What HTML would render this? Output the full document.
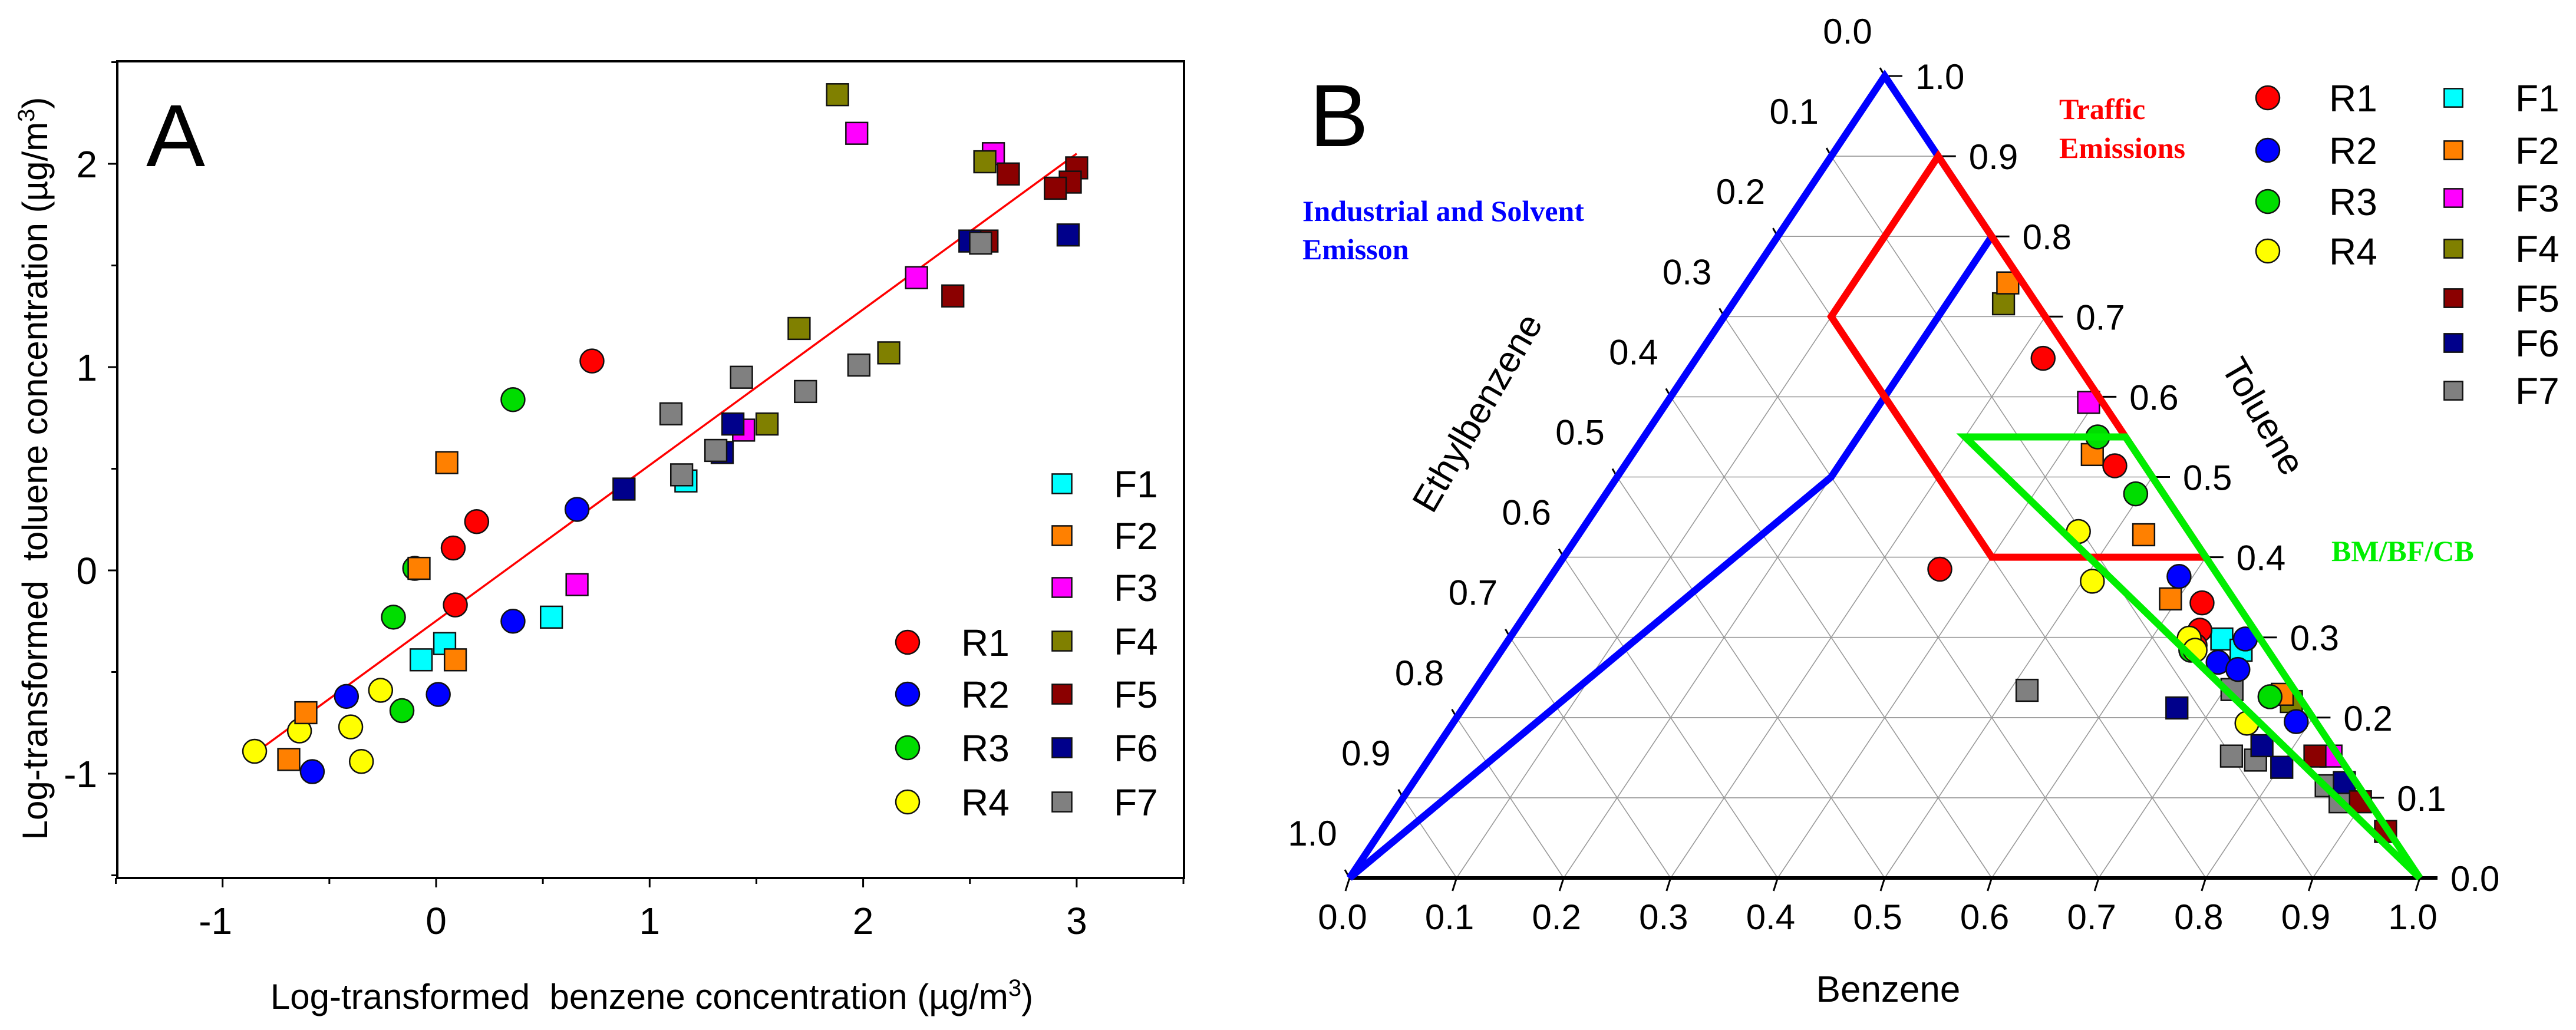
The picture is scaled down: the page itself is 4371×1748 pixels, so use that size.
<!DOCTYPE html>
<html><head><meta charset="utf-8"><style>
html,body{margin:0;padding:0;background:#fff;}
svg{display:block;font-family:"Liberation Sans",Arial,sans-serif;}
</style></head><body>
<svg id="fig" width="4371" height="1748" viewBox="0 0 4371 1748" xmlns="http://www.w3.org/2000/svg">
<rect width="4371" height="1748" fill="#fff"/>
<g id="panelA"></g>
<g id="panelB"></g>
</svg>
<script>
// ---------- Panel A data ----------
const seriesNames = ["R1","R2","R3","R4","F1","F2","F3","F4","F5","F6","F7"];
const seriesColors = ["#ff0000","#0000ff","#00dd00","#ffff00","#00ffff","#ff8000","#ff00ff","#808000","#8b0000","#00008b","#808080"];
const seriesShapes = ["c","c","c","c","s","s","s","s","s","s","s"];
const aR1 = [[0.73,1.03],[0.19,0.24],[0.08,0.11],[0.09,-0.17]];
const aR2 = [[0.66,0.30],[0.36,-0.25],[0.01,-0.61],[-0.42,-0.62],[-0.58,-0.99]];
const aR3 = [[0.36,0.84],[-0.10,0.01],[-0.20,-0.23],[-0.16,-0.69]];
const aR4 = [[-0.85,-0.89],[-0.64,-0.79],[-0.40,-0.77],[-0.35,-0.94],[-0.26,-0.59]];
const aF1 = [[0.54,-0.23],[0.04,-0.36],[-0.07,-0.44],[1.17,0.44]];
const aF2 = [[0.05,0.53],[-0.08,0.01],[0.09,-0.44],[-0.61,-0.70],[-0.69,-0.93]];
const aF3 = [[1.97,2.15],[2.61,2.05],[2.25,1.44],[0.66,-0.07],[1.44,0.69]];
const aF4 = [[1.88,2.34],[2.57,2.01],[1.70,1.19],[2.12,1.07],[1.55,0.72]];
const aF5 = [[2.68,1.95],[3.00,1.98],[2.97,1.91],[2.90,1.88],[2.42,1.35],[2.58,1.62]];
const aF6 = [[2.96,1.65],[2.50,1.62],[1.39,0.72],[1.34,0.58],[0.88,0.40]];
const aF7 = [[1.43,0.95],[1.10,0.77],[1.98,1.01],[1.73,0.88],[1.31,0.59],[1.15,0.47],[2.55,1.61]];
const fitLine = [[-0.85,-0.9],[3.0,2.05]];
const xTicks = [-1,0,1,2,3];
const yTicks = [-1,0,1,2];

// ---------- Panel B data (Benzene, Toluene) ----------
const bR1 = [[0.324,0.648],[0.458,0.514],[0.359,0.385],[0.625,0.343],[0.640,0.309],[0.645,0.29]];
const bR2 = [[0.587,0.376],[0.688,0.298],[0.677,0.269],[0.787,0.195],[0.70,0.26]];
const bR3 = [[0.424,0.55],[0.495,0.479],[0.747,0.226],[0.644,0.284]];
const bR4 = [[0.465,0.432],[0.509,0.370],[0.635,0.299],[0.648,0.284],[0.742,0.193]];
const bF1 = [[0.666,0.298],[0.691,0.284]];
const bF2 = [[0.244,0.742],[0.430,0.528],[0.528,0.428],[0.593,0.348],[0.757,0.229]];
const bF3 = [[0.394,0.593],[0.841,0.152]];
const bF4 = [[0.253,0.716],[0.77,0.22]];
const bF5 = [[0.826,0.152],[0.897,0.095],[0.939,0.058]];
const bF6 = [[0.667,0.212],[0.802,0.138],[0.770,0.165],[0.870,0.119]];
const bF7 = [[0.516,0.234],[0.707,0.235],[0.748,0.152],[0.773,0.147],[0.855,0.115],[0.878,0.095]];
const regionIndustrial = [[0,0],[0,1],[0.2,0.8],[0.2,0.5]];
const regionTraffic = [[0.1,0.9],[0.1,0.7],[0.4,0.4],[0.6,0.4]];
const regionBurning = [[0.3,0.55],[0.45,0.55],[1,0]];
const ternTicks = [0,0.1,0.2,0.3,0.4,0.5,0.6,0.7,0.8,0.9,1.0];

const NS="http://www.w3.org/2000/svg";
function mk(parent,tag,attrs,text){const e=document.createElementNS(NS,tag);for(const k in attrs)e.setAttribute(k,attrs[k]);if(text!==undefined)e.textContent=text;parent.appendChild(e);return e;}
function marker(g,shape,x,y,color,r){
  let e;
  if(shape==="c") e=mk(g,"circle",{cx:x,cy:y,r:r,fill:color,stroke:"#111","stroke-width":2.5});
  else e=mk(g,"rect",{x:x-r*0.92,y:y-r*0.92,width:r*1.84,height:r*1.84,fill:color,stroke:"#111","stroke-width":2.5});
  return e;
}

// ===== Panel A =====
const A=document.getElementById("panelA");
const L=199,R=2009,T=104,B=1490;
const xA=v=>740+362.3*v, yA=v=>968-345*v;
let fr=mk(A,"rect",{x:L,y:T,width:R-L,height:B-T,fill:"none",stroke:"#000","stroke-width":4});


for(let v=-1.5;v<=3.51;v+=0.5){
  const x=xA(v), major=Math.abs(v-Math.round(v))<1e-6;
  let t=mk(A,"line",{x1:x,y1:B,x2:x,y2:B+(major?16:10),stroke:"#000","stroke-width":3});
  
  
}
for(let v=-1.5;v<=2.51;v+=0.5){
  const y=yA(v), major=Math.abs(v-Math.round(v))<1e-6;
  let t=mk(A,"line",{x1:L,y1:y,x2:L-(major?16:10),y2:y,stroke:"#000","stroke-width":3});
  
  
}
xTicks.forEach(v=>{let t=mk(A,"text",{x:xA(v)-(v<0?12:0),y:1585,"font-size":64,"text-anchor":"middle"},String(v));
  
  });
yTicks.forEach(v=>{let t=mk(A,"text",{x:165,y:yA(v)+23,"font-size":64,"text-anchor":"end"},String(v));
  
  });
let xt=mk(A,"text",{x:1106,y:1712,"font-size":60,"text-anchor":"middle"});
xt.innerHTML='Log-transformed&#160; benzene concentration (µg/m<tspan dy="-22" font-size="40">3</tspan><tspan dy="22">)</tspan>';


let yt=mk(A,"text",{x:0,y:0,"font-size":60,"text-anchor":"middle",transform:"translate(80,795) rotate(-90)"});
yt.innerHTML='Log-transformed&#160; toluene concentration (µg/m<tspan dy="-22" font-size="40">3</tspan><tspan dy="22">)</tspan>';


let la=mk(A,"text",{x:248,y:282,"font-size":150},"A");


let fl=mk(A,"line",{x1:xA(fitLine[0][0]),y1:yA(fitLine[0][1]),x2:xA(fitLine[1][0]),y2:yA(fitLine[1][1]),stroke:"#ff0000","stroke-width":3.5});


const aSets=[aR1,aR2,aR3,aR4,aF1,aF2,aF3,aF4,aF5,aF6,aF7];
aSets.forEach((pts,i)=>{
  const g=mk(A,"g",{});
  
  
  pts.forEach(p=>{const m=marker(g,seriesShapes[i],xA(p[0]),yA(p[1]),seriesColors[i],20);
    
    });
});
// legend A
const legRowsR=[1090,1178,1269,1361], legRowsF=[821,909,997,1088,1178,1269,1361];
seriesNames.forEach((n,i)=>{
  const isR=i<4, y=isR?legRowsR[i]:legRowsF[i-4], mx=isR?1540:1802, tx=isR?1631:1890;
  const g=mk(A,"g",{});
  
  
  marker(g,seriesShapes[i],mx,y,seriesColors[i],isR?20:18);
  mk(g,"text",{x:tx,y:y+23,"font-size":64},n);
});

// ===== Panel B =====
const Bg=document.getElementById("panelB");
const BL=[2290,1490],BR=[4106,1490],AP=[3198,129];
function tp(b,t){const e=1-b-t;return [e*BL[0]+b*BR[0]+t*AP[0], e*BL[1]+b*BR[1]+t*AP[1]];}
// grid
for(let k=1;k<=9;k++){
  const f=k/10;
  [[tp(0,f),tp(1-f,f)],[tp(f,0),tp(f,1-f)],[tp(0,1-f),tp(1-f,0)]].forEach(s=>{
    let l=mk(Bg,"line",{x1:s[0][0],y1:s[0][1],x2:s[1][0],y2:s[1][1],stroke:"#999","stroke-width":1.6});
    
    
  });
}
let bax=mk(Bg,"line",{x1:BL[0],y1:BL[1],x2:BR[0]+30,y2:BR[1],stroke:"#000","stroke-width":6});


ternTicks.forEach(v=>{
  const p=tp(v,0);
  let t=mk(Bg,"line",{x1:p[0],y1:p[1],x2:p[0]-7,y2:p[1]+22,stroke:"#000","stroke-width":3});
  
  
  let tl=mk(Bg,"text",{x:p[0]-12,y:1577,"font-size":60,"text-anchor":"middle"},v.toFixed(1));
  
  
  const q=tp(1-v,v);
  let t2=mk(Bg,"line",{x1:q[0],y1:q[1],x2:q[0]+30,y2:q[1],stroke:"#000","stroke-width":3});
  
  
  let tl2=mk(Bg,"text",{x:q[0]+52,y:q[1]+22,"font-size":60},v.toFixed(1));
  
  
  const r=tp(0,1-v);
  let t3=mk(Bg,"line",{x1:r[0],y1:r[1],x2:r[0]-8,y2:r[1]-14,stroke:"#000","stroke-width":3});
  
  
  let tl3=mk(Bg,"text",{x:r[0]-63,y:r[1]-55,"font-size":60,"text-anchor":"middle"},v.toFixed(1));
  
  
});
function region(pts,color,name){
  const s=pts.map(p=>tp(p[0],p[1]).join(",")).join(" ");
  let e=mk(Bg,"polygon",{points:s,fill:"none",stroke:color,"stroke-width":12,"stroke-linejoin":"miter"});
  
  
}
region(regionIndustrial,"#0000ff","industrial-solvent-region");
const bSets=[bR1,bR2,bR3,bR4,bF1,bF2,bF3,bF4,bF5,bF6,bF7];
const order=[7,5,6,10,9,8,4,0,1,2,3];
order.forEach(i=>{
  const g=mk(Bg,"g",{});
  
  
  bSets[i].forEach(p=>{const q=tp(p[0],p[1]);const m=marker(g,seriesShapes[i],q[0],q[1],seriesColors[i],20);
    
    });
});
region(regionTraffic,"#ff0000","traffic-emissions-region");
region(regionBurning,"#00ee00","bm-bf-cb-region");
let ttl=mk(Bg,"text",{x:3204,y:1700,"font-size":62,"text-anchor":"middle"},"Benzene");


let ttl2=mk(Bg,"text",{x:0,y:0,"font-size":62,"text-anchor":"middle",transform:"translate(2525,711) rotate(-60)"},"Ethylbenzene");


let ttl3=mk(Bg,"text",{x:0,y:0,"font-size":62,"text-anchor":"middle",transform:"translate(3822,717) rotate(60)"},"Toluene");


let lb=mk(Bg,"text",{x:2222,y:248,"font-size":150},"B");


const serif='"Liberation Serif","Times New Roman",serif';
let a1=mk(Bg,"text",{x:3494,y:202,"font-size":50,"font-weight":"bold","font-family":serif,fill:"#ff0000"},"Traffic");


let a2=mk(Bg,"text",{x:3494,y:268,"font-size":50,"font-weight":"bold","font-family":serif,fill:"#ff0000"},"Emissions");


let a3=mk(Bg,"text",{x:2210,y:375,"font-size":50,"font-weight":"bold","font-family":serif,fill:"#0000ff"},"Industrial and Solvent");


let a4=mk(Bg,"text",{x:2210,y:440,"font-size":50,"font-weight":"bold","font-family":serif,fill:"#0000ff"},"Emisson");


let a5=mk(Bg,"text",{x:3956,y:952,"font-size":50,"font-weight":"bold","font-family":serif,fill:"#00ee00"},"BM/BF/CB");


// legend B
const legBR=[166,255,342,426], legBF=[166,255,336,422,506,582,663];
seriesNames.forEach((n,i)=>{
  const isR=i<4, y=isR?legBR[i]:legBF[i-4], mx=isR?3848:4163, tx=isR?3952:4268;
  const g=mk(Bg,"g",{});
  
  
  marker(g,seriesShapes[i],mx,y,seriesColors[i],isR?20:17);
  mk(g,"text",{x:tx,y:y+23,"font-size":64},n);
});
</script>
</body></html>
